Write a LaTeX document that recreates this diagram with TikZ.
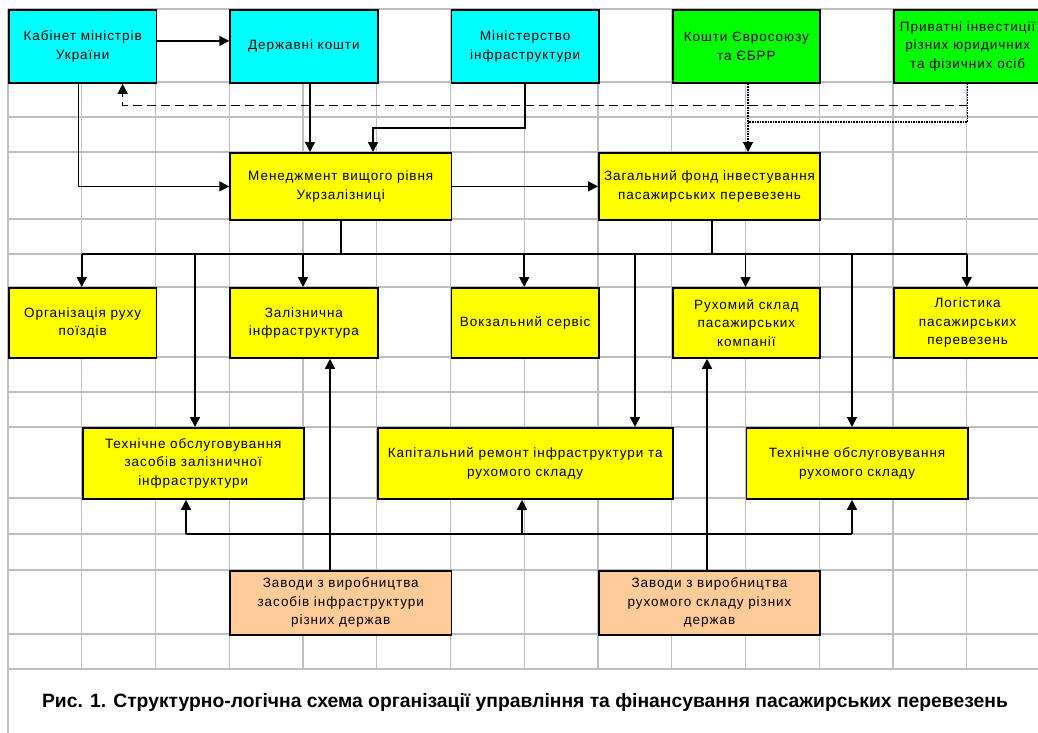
\documentclass[tikz,border=0pt]{standalone}
\usepackage{fontspec}
\usepackage{tikz}
\usetikzlibrary{arrows.meta}
\setmainfont{Liberation Sans}
\newfontfamily\cellfont[LetterSpace=7]{Liberation Sans}
\newfontfamily\captfont{Liberation Sans}

\definecolor{cellcyan}{RGB}{0,255,255}
\definecolor{cellgreen}{RGB}{0,255,0}
\definecolor{cellyellow}{RGB}{255,255,0}
\definecolor{cellpeach}{RGB}{255,204,153}
\definecolor{gridgray}{RGB}{190,190,190}

\begin{document}
\begin{tikzpicture}[x=1pt,y=-1pt,
		gridline/.style={draw=gridgray, line width=1.3pt},
		cell/.style={draw, line width=1.8pt, anchor=north west, align=center, inner sep=0pt,
			font={\cellfont\fontsize{13.5}{18.5}\selectfont}},
		narrow/.style={minimum width=147.5},
		wide/.style={minimum width=221.25},
		link/.style={line width=1.6pt},
		arr/.style={link, -{Triangle[width=10pt,length=10pt]}},
		dotlink/.style={line width=1.6pt, densely dotted},
		dotarr/.style={dotlink, -{Triangle[width=10pt,length=10pt]}},
		dasharr/.style={line width=1.4pt, dash pattern=on 9pt off 5pt, -{Triangle[width=10pt,length=10pt]}}]
		\useasboundingbox (0,0) rectangle (1038,733);

		% Grid
		\foreach \x in {8,81.75,...,967} \draw[gridline] (\x,9) -- (\x,669);
		\foreach \y in {9,82,117,152,219,254,287,357,392,427,498,534,570,634,669}
			\draw[gridline] (8,\y) -- (1045,\y);
		\draw[gridline] (8,669) -- (8,733);

		% Sources
		\node[cell, narrow, minimum height=73, fill=cellcyan] (kabinet) at (8,9) {Кабінет міністрів\\України};
		\node[cell, narrow, minimum height=73, fill=cellcyan] (derzh) at (229.25,9) {Державні кошти};
		\node[cell, narrow, minimum height=73, fill=cellcyan] (minist) at (450.5,9) {Міністерство\\інфраструктури};
		\node[cell, narrow, minimum height=73, fill=cellgreen] (es) at (671.75,9) {Кошти Євросоюзу\\та ЄБРР};
		\node[cell, narrow, minimum height=73, fill=cellgreen] (pryv) at (893,9) {Приватні інвестиції\\різних юридичних\\та фізичних осіб};

		% Management and fund
		\node[cell, wide, minimum height=67, fill=cellyellow] (menedzh) at (229.25,152) {Менеджмент вищого рівня\\Укрзалізниці};
		\node[cell, wide, minimum height=67, fill=cellyellow] (fond) at (598,152) {Загальний фонд інвестування\\пасажирських перевезень};

		% Branches
		\node[cell, narrow, minimum height=70, fill=cellyellow] (org) at (8,287) {Організація руху\\поїздів};
		\node[cell, narrow, minimum height=70, fill=cellyellow] (zaliz) at (229.25,287) {Залізнична\\інфраструктура};
		\node[cell, narrow, minimum height=70, fill=cellyellow] (vokz) at (450.5,287) {Вокзальний сервіс};
		\node[cell, narrow, minimum height=70, fill=cellyellow] (rukh) at (671.75,287) {Рухомий склад\\пасажирських\\компанії};
		\node[cell, narrow, minimum height=70, fill=cellyellow] (logist) at (893,287) {Логістика\\пасажирських\\перевезень};

		% Maintenance
		\node[cell, wide, minimum height=71, fill=cellyellow] (tozas) at (81.75,427) {Технічне обслуговування\\засобів залізничної\\інфраструктури};
		\node[cell, minimum width=295, minimum height=71, fill=cellyellow] (kapit) at (376.75,427) {Капітальний ремонт інфраструктури та\\рухомого складу};
		\node[cell, wide, minimum height=71, fill=cellyellow] (torukh) at (745.5,427) {Технічне обслуговування\\рухомого складу};

		% Plants
		\node[cell, wide, minimum height=64, fill=cellpeach] (zavinf) at (229.25,570) {Заводи з виробництва\\засобів інфраструктури\\різних держав};
		\node[cell, wide, minimum height=64, fill=cellpeach] (zavrukh) at (598,570) {Заводи з виробництва\\рухомого складу різних\\держав};

		% Upper links
		\draw[arr] ([yshift=5.5pt]kabinet.east) -- ([yshift=5.5pt]derzh.west);
		\draw[arr] ([xshift=-4pt]kabinet.south) |- (menedzh.west);
		\coordinate (dk) at (310,152);
		\draw[arr] (derzh.south -| dk) -- (dk);
		\coordinate (mi) at (373,152);
		\draw[arr] (minist.south) -- ++(0,44) -| (mi);
		\draw[arr] (menedzh.east) -- (fond.west);
		\coordinate (esin) at (748,152);
		\coordinate (esjoin) at (748,122);
		\draw[dotarr] (es.south -| esin) -- (esin);
		\draw[dotlink] (pryv.south) |- (esjoin);
		\draw[dasharr] (pryv.south) ++(0,22) -| ([xshift=40pt]kabinet.south);

		% Distribution line
		\coordinate (busL) at (81.75,254);
		\coordinate (busR) at (966.75,254);
		\draw[link] (busL) -- (busR);
		\draw[link] (menedzh.south) -- (menedzh.south |- busL);
		\coordinate (fd) at (712,254);
		\draw[link] (fond.south -| fd) -- (fd);
		\foreach \t/\x/\n in {torg/81.75/org, ttoz/195/tozas, tzal/303/zaliz, tvok/524.25/vokz,
				tkap/635/kapit, trukh/745.5/rukh, ttor/852/torukh, tlog/966.75/logist}{
			\coordinate (\t) at (\x,254);
			\draw[arr] (\t) -- (\t |- \n.north);
		}

		% Plant links
		\coordinate (uzal) at (330,534);
		\draw[arr] (uzal |- zavinf.north) -- (uzal |- zaliz.south);
		\coordinate (urukh) at (707,534);
		\draw[arr] (urukh |- zavrukh.north) -- (urukh |- rukh.south);
		\coordinate (bbL) at (186,534);
		\coordinate (bbM) at (522,534);
		\coordinate (bbR) at (852,534);
		\draw[link] (bbL) -- (bbR);
		\draw[arr] (bbL) -- (bbL |- tozas.south);
		\draw[arr] (bbM) -- (bbM |- kapit.south);
		\draw[arr] (bbR) -- (bbR |- torukh.south);

		% Caption
		\node[font={\captfont\bfseries\fontsize{19.3}{22}\selectfont}] (caption) at (525,703)
			{Рис. 1. Структурно-логічна схема організації управління та фінансування пасажирських перевезень};
	\end{tikzpicture}
\end{document}
